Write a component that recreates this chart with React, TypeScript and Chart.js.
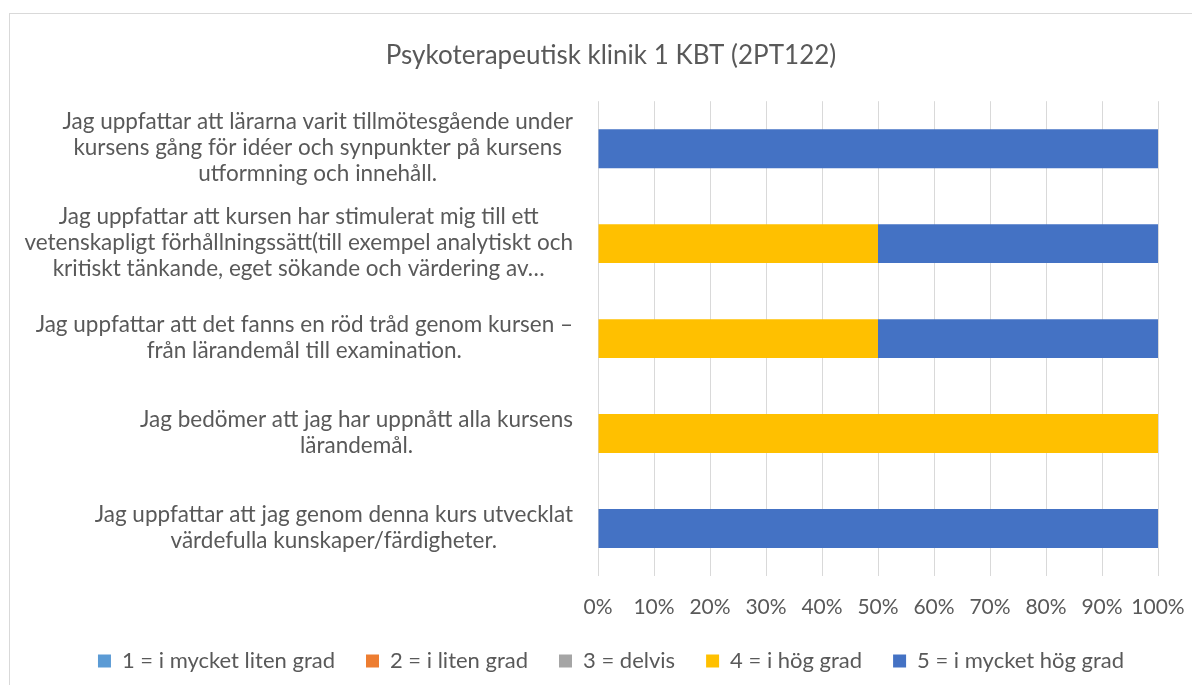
import React, { useEffect, useRef } from "react";
import { Chart, registerables } from "chart.js";

Chart.register(...registerables);

const TITLE = "Psykoterapeutisk klinik 1 KBT (2PT122)";

const categories: string[][] = [
  [
    "Jag uppfattar att lärarna varit tillmötesgående under",
    "kursens gång för idéer och synpunkter på kursens",
    "utformning och innehåll.",
  ],
  [
    "Jag uppfattar att kursen har stimulerat mig till ett",
    "vetenskapligt förhållningssätt(till exempel analytiskt och",
    "kritiskt tänkande, eget sökande och värdering av…",
  ],
  [
    "Jag uppfattar att det fanns en röd tråd genom kursen –",
    "från lärandemål till examination.",
  ],
  ["Jag bedömer att jag har uppnått alla kursens", "lärandemål."],
  [
    "Jag uppfattar att jag genom denna kurs utvecklat",
    "värdefulla kunskaper/färdigheter.",
  ],
];

const seriesNames = [
  "1 = i mycket liten grad",
  "2 = i liten grad",
  "3 = delvis",
  "4 = i hög grad",
  "5 = i mycket hög grad",
];

const series1 = [0, 0, 0, 0, 0];
const series2 = [0, 0, 0, 0, 0];
const series3 = [0, 0, 0, 0, 0];
const series4 = [0, 50, 50, 100, 0];
const series5 = [100, 50, 50, 0, 100];

const seriesColors = ["#5B9BD5", "#ED7D31", "#A5A5A5", "#FFC000", "#4472C4"];

const xTickValues = [0, 10, 20, 30, 40, 50, 60, 70, 80, 90, 100];

const FONT = "Lato";
const TEXT = "#595959";
const GRID = "#D9D9D9";
const LABEL_SIZE = 22.5;
const LINE_H = 26;

const CW = 1204;
const CH = 669;

const wrappedLabels = {
  id: "wrappedLabels",
  afterDraw(chart: any) {
    const ctx = chart.ctx;
    const yScale = chart.scales.y;
    const area = chart.chartArea;
    ctx.save();
    ctx.font = `${LABEL_SIZE}px ${FONT}`;
    ctx.fillStyle = TEXT;
    ctx.textAlign = "center";
    ctx.textBaseline = "middle";
    categories.forEach((lines, i) => {
      const cy = yScale.getPixelForValue(i) - 1;
      const w = Math.max(...lines.map((l) => ctx.measureText(l).width));
      const cx = area.left - 25 - w / 2;
      lines.forEach((l, j) => {
        ctx.fillText(l, cx, cy + (j - (lines.length - 1) / 2) * LINE_H);
      });
    });
    ctx.restore();
  },
};

export default function App() {
  const ref = useRef<HTMLCanvasElement | null>(null);

  useEffect(() => {
    if (!ref.current) return;
    const all = [series1, series2, series3, series4, series5];
    const chart = new Chart(ref.current, {
      type: "bar",
      data: {
        labels: categories.map((l) => l.join(" ")),
        datasets: all.map((d, i) => ({
          label: seriesNames[i],
          data: d,
          backgroundColor: seriesColors[i],
          borderWidth: 0,
          categoryPercentage: 1,
          barPercentage: 0.41,
        })),
      },
      options: {
        indexAxis: "y",
        responsive: false,
        animation: false,
        devicePixelRatio: 1,
        layout: { padding: 0 },
        scales: {
          x: {
            stacked: true,
            min: 0,
            max: 100,
            afterBuildTicks: (scale: any) => {
              scale.ticks = xTickValues.map((v) => ({ value: v }));
            },
            afterFit: (scale: any) => {
              scale.paddingRight = 55;
              scale.height = 43;
            },
            grid: { color: GRID, lineWidth: 1, drawTicks: false },
            border: { display: false },
            ticks: {
              color: TEXT,
              font: { family: FONT, size: 21 },
              padding: 18.4,
              maxRotation: 0,
              autoSkip: false,
              callback: (v: any) => `${v}%`,
            },
          },
          y: {
            stacked: true,
            grid: { display: false },
            border: { display: false },
            ticks: { display: false },
            afterFit: (scale: any) => {
              scale.width = 589;
            },
          },
        },
        plugins: {
          title: {
            display: true,
            text: TITLE,
            color: TEXT,
            font: { family: FONT, size: 26, weight: "normal" },
            padding: { top: 27, bottom: 30 },
          },
          legend: {
            display: true,
            position: "bottom",
            labels: {
              color: TEXT,
              font: { family: FONT, size: 22 },
              boxWidth: 13,
              boxHeight: 13,
              padding: 31,
            },
          },
          tooltip: { enabled: false },
        },
      },
      plugins: [wrappedLabels],
    } as any);
    return () => chart.destroy();
  }, []);

  return (
    <div style={{ position: "relative", width: 1184, height: 677, overflow: "hidden" }}>
      <div
        style={{
          position: "absolute",
          left: 1,
          top: 5,
          width: CW,
          height: 720,
          border: `1px solid ${GRID}`,
          boxSizing: "border-box",
        }}
      >
        <canvas
          ref={ref}
          width={CW}
          height={CH}
          style={{ position: "absolute", left: -1, top: -1 }}
        />
      </div>
    </div>
  );
}
